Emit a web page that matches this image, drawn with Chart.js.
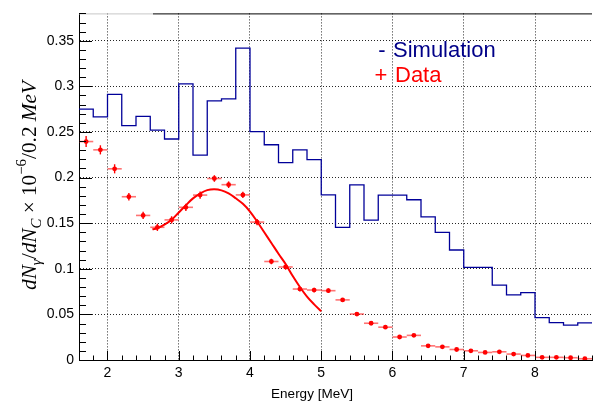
<!DOCTYPE html>
<html>
<head>
<meta charset="utf-8">
<script src="https://cdn.jsdelivr.net/npm/chart.js@4.4.0/dist/chart.umd.min.js"></script>
<style>
  html, body { margin: 0; padding: 0; background: #fff; overflow: hidden; }
  #c { display: block; }
</style>
</head>
<body>
<canvas id="c" width="596" height="404"></canvas>
<script>
// ── DADOS ────────────────────────────────────────────────────────────────────

// Limite inferior de cada bin (largura 0.2 MeV)
const binLow = [1.6, 1.8, 2.0, 2.2, 2.4, 2.6, 2.8, 3.0, 3.2, 3.4, 3.6, 3.8,
                4.0, 4.2, 4.4, 4.6, 4.8, 5.0, 5.2, 5.4, 5.6, 5.8, 6.0, 6.2,
                6.4, 6.6, 6.8, 7.0, 7.2, 7.4, 7.6, 7.8, 8.0, 8.2, 8.4, 8.6]
const binWidth = 0.2

// Histograma da simulação (azul)
const simValues = [0.275, 0.2665, 0.2913, 0.257, 0.267, 0.252, 0.2423, 0.3028, 0.2247, 0.284, 0.2863, 0.342,
                   0.2503, 0.236, 0.2164, 0.2304, 0.2196, 0.181, 0.1455, 0.192, 0.1534, 0.1808, 0.1808, 0.1757,
                   0.157, 0.140, 0.1206, 0.1015, 0.1015, 0.0821, 0.0713, 0.0738, 0.0464, 0.041, 0.0382, 0.0407]

// Pontos de dados (vermelho), centro do bin
const dataCenters = [1.7, 1.9, 2.1, 2.3, 2.5, 2.7, 2.9, 3.1, 3.3, 3.5, 3.7, 3.9,
                     4.1, 4.3, 4.5, 4.7, 4.9, 5.1, 5.3, 5.5, 5.7, 5.9, 6.1, 6.3,
                     6.5, 6.7, 6.9, 7.1, 7.3, 7.5, 7.7, 7.9, 8.1, 8.3, 8.5, 8.7]
const dataValues = [0.2395, 0.2304, 0.2096, 0.179, 0.1585, 0.1455, 0.1536, 0.1674, 0.1808, 0.199, 0.1922, 0.181,
                    0.1512, 0.108, 0.102, 0.0778, 0.0767, 0.076, 0.0659, 0.0504, 0.0403, 0.036, 0.0252, 0.027,
                    0.0155, 0.0144, 0.0115, 0.0101, 0.0083, 0.009, 0.0065, 0.005, 0.0029, 0.0029, 0.0025, 0.0014]
const dataYErr = [0.006, 0.005, 0.005, 0.004, 0.004, 0.004, 0.004, 0.004, 0.004, 0.0036, 0.0036, 0.0035,
                  0.0035, 0.003, 0.003, 0.0025, 0.0025, 0.0025, 0.002, 0.002, 0.002, 0.002, 0.0015, 0.0015,
                  0.0015, 0.0015, 0.0015, 0.0015, 0.001, 0.001, 0.001, 0.001, 0.001, 0.001, 0.001, 0.001]
const dataXErr = 0.1

// Curva de ajuste (vermelho)
const fitX = [2.63, 2.7, 2.8, 2.9, 3.0, 3.1, 3.2, 3.3, 3.4, 3.5, 3.6, 3.7, 3.8,
              3.9, 4.0, 4.1, 4.2, 4.3, 4.4, 4.5, 4.6, 4.7, 4.8, 4.9, 5.0]
const fitY = [0.1433, 0.1445, 0.1485, 0.1538, 0.1617, 0.1697, 0.1772, 0.1825, 0.1862, 0.1872, 0.186, 0.1826, 0.1773,
              0.1712, 0.1628, 0.1518, 0.140, 0.1283, 0.1165, 0.1052, 0.092, 0.080, 0.0695, 0.061, 0.0535]

// Eixos
const xTicks = [2, 3, 4, 5, 6, 7, 8]
const yTicks = [0, 0.05, 0.1, 0.15, 0.2, 0.25, 0.3, 0.35]
const yTickLabels = ['0', '0.05', '0.1', '0.15', '0.2', '0.25', '0.3', '0.35']
const xTitle = 'Energy [MeV]'
const legendItems = [
  { mark: '-', label: 'Simulation', color: '#000088' },
  { mark: '+', label: 'Data',       color: '#ff0000' }
]

const SANS = '"Liberation Sans", Arial, Helvetica, sans-serif'
const SERIF = '"Liberation Serif", "Times New Roman", serif'

// ── PLUGIN: barras de erro, ticks internos estilo ROOT, legenda e títulos ────

const rootDecor = {
  id: 'rootDecor',
  beforeDatasetDraw(chart, args) {
    if (args.index !== 2) return
    const { ctx, scales: { x, y } } = chart
    ctx.save()
    dataCenters.forEach((cx, i) => {
      const px = x.getPixelForValue(cx)
      const py = y.getPixelForValue(dataValues[i])
      ctx.strokeStyle = 'rgba(255,40,40,0.65)'
      ctx.lineWidth = 1.6
      ctx.beginPath()
      ctx.moveTo(x.getPixelForValue(cx - dataXErr), py)
      ctx.lineTo(x.getPixelForValue(cx + dataXErr), py)
      ctx.stroke()
      ctx.strokeStyle = '#ff0000'
      ctx.lineWidth = 1.4
      ctx.beginPath()
      ctx.moveTo(px, y.getPixelForValue(dataValues[i] - dataYErr[i]))
      ctx.lineTo(px, y.getPixelForValue(dataValues[i] + dataYErr[i]))
      ctx.stroke()
    })
    ctx.restore()
  },
  afterDraw(chart) {
    const { ctx, chartArea: { left, right, top, bottom }, scales: { x, y } } = chart
    ctx.save()

    // moldura superior
    ctx.lineWidth = 1
    ctx.strokeStyle = '#c8c8c8'
    ctx.beginPath(); ctx.moveTo(left, top + 0.5); ctx.lineTo(153, top + 0.5); ctx.stroke()
    ctx.strokeStyle = '#000'
    ctx.beginPath(); ctx.moveTo(153, top + 0.5); ctx.lineTo(right, top + 0.5); ctx.stroke()

    // ticks menores/maiores para dentro
    ctx.beginPath()
    for (let i = 0; i <= 36; i++) {
      const v = 1.6 + i * 0.2
      const px = Math.round(x.getPixelForValue(v)) + 0.5
      const major = Math.abs(v - Math.round(v)) < 1e-6
      ctx.moveTo(px, bottom)
      ctx.lineTo(px, bottom - (major ? 9 : 4.5))
    }
    for (let i = 0; i <= 38; i++) {
      const py = Math.round(y.getPixelForValue(i * 0.01)) + 0.5
      ctx.moveTo(left, py)
      ctx.lineTo(left + (i % 5 === 0 ? 13 : 7), py)
    }
    ctx.stroke()

    // legenda
    ctx.textBaseline = 'alphabetic'
    ctx.font = '22px ' + SANS
    legendItems.forEach((it, i) => {
      const by = 57 + i * 25
      ctx.fillStyle = it.color
      ctx.textAlign = 'center'
      ctx.fillText(it.mark, i === 0 ? 382 : 381, by)
      ctx.textAlign = 'left'
      ctx.fillText(it.label, i === 0 ? 393 : 395, by)
    })

    // título do eixo x
    ctx.fillStyle = '#000'
    ctx.font = '13.5px ' + SANS
    ctx.textAlign = 'center'
    ctx.fillText(xTitle, 312, 398)

    // título do eixo y (LaTeX do ROOT)
    const parts = [
      { t: 'dN',    it: true,  s: 1,   dy: 0 },
      { t: 'γ',     it: true,  s: 0.7, dy: 0.28 },
      { t: '/',     it: false, s: 1,   dy: 0 },
      { t: 'dN',    it: true,  s: 1,   dy: 0 },
      { t: 'C',     it: true,  s: 0.7, dy: 0.28 },
      { t: ' × 10', it: false, s: 1,   dy: 0 },
      { t: '−6',    it: false, s: 0.7, dy: -0.45 },
      { t: '/0.2 ', it: false, s: 1,   dy: 0 },
      { t: 'MeV',   it: true,  s: 1,   dy: 0 }
    ]
    const fontOf = (p, size) => (p.it ? 'italic ' : '') + (size * p.s) + 'px ' + SERIF
    const measure = size => parts.reduce((w, p) => { ctx.font = fontOf(p, size); return w + ctx.measureText(p.t).width }, 0)
    const size = 20 * 209 / measure(20)
    const total = measure(size)
    ctx.translate(35.5, 185.5)
    ctx.rotate(-Math.PI / 2)
    ctx.textAlign = 'left'
    let cx = -total / 2
    parts.forEach(p => {
      ctx.font = fontOf(p, size)
      ctx.fillText(p.t, cx, p.dy * size)
      cx += ctx.measureText(p.t).width
    })
    ctx.restore()
  }
}

// ── CHART ────────────────────────────────────────────────────────────────────

const histPoints = binLow.map((x, i) => ({ x, y: simValues[i] }))
histPoints.push({ x: binLow[binLow.length - 1] + binWidth, y: simValues[simValues.length - 1] })

new Chart(document.getElementById('c'), {
  type: 'line',
  plugins: [rootDecor],
  data: {
    datasets: [
      {
        label: 'Simulation', data: histPoints, stepped: true,
        borderColor: '#000099', borderWidth: 1.3, pointRadius: 0, fill: false, order: 3
      },
      {
        label: 'Fit', data: fitX.map((x, i) => ({ x, y: fitY[i] })),
        borderColor: '#ff0000', borderWidth: 2, pointRadius: 0, tension: 0.4, fill: false, order: 1
      },
      {
        type: 'scatter', label: 'Data', data: dataCenters.map((x, i) => ({ x, y: dataValues[i] })),
        backgroundColor: '#ff0000', borderWidth: 0, pointRadius: 2.4, order: 2
      }
    ]
  },
  options: {
    responsive: false, animation: false,
    layout: { padding: { top: 8, right: 0, left: 0, bottom: 0 } },
    plugins: { legend: { display: false }, tooltip: { enabled: false } },
    scales: {
      x: {
        type: 'linear', min: 1.6, max: 8.8,
        afterBuildTicks: s => { s.ticks = xTicks.map(v => ({ value: v })) },
        afterFit: s => { s.height = 44 },
        ticks: { color: '#000', font: { family: SANS, size: 14 }, padding: 5, maxRotation: 0, autoSkip: false,
                 callback: v => String(v) },
        grid: { color: 'rgba(0,0,0,0.85)', lineWidth: 1, drawTicks: false },
        border: { display: true, color: '#000', width: 1, dash: [1, 2] }
      },
      y: {
        min: 0, max: 0.38,
        afterBuildTicks: s => { s.ticks = yTicks.map(v => ({ value: v })) },
        afterFit: s => { s.width = 79 },
        ticks: { color: '#000', font: { family: SANS, size: 14 }, padding: 5,
                 callback: v => yTickLabels[yTicks.indexOf(v)] ?? '' },
        grid: { color: 'rgba(0,0,0,0.85)', lineWidth: 1, drawTicks: false },
        border: { display: true, color: '#000', width: 1, dash: [1, 2] }
      }
    }
  }
})
</script>
</body>
</html>
